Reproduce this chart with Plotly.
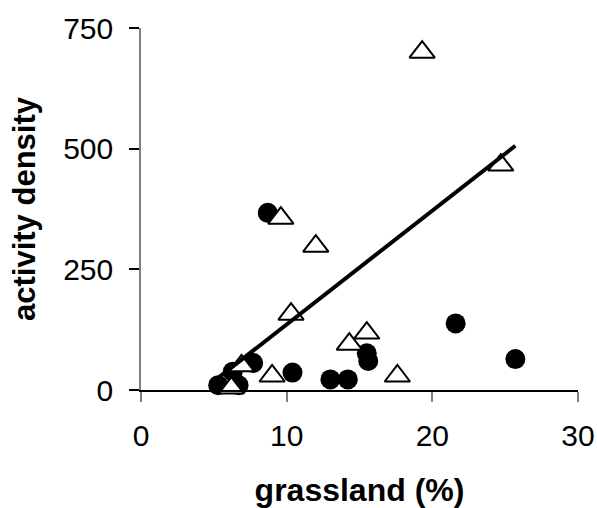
import plotly.graph_objects as go

# Filled circles: grassland (%) vs activity density
circle_x = [8.7, 7.7, 6.3, 5.3, 6.7, 10.4, 13.0, 14.2, 15.5, 15.6, 21.6, 25.7]
circle_y = [367, 56, 38, 10, 10, 36, 22, 22, 76, 60, 138, 64]

# Open triangles: grassland (%) vs activity density
tri_x = [19.3, 24.7, 9.6, 12.0, 10.3, 6.9, 9.0, 6.2, 14.3, 15.5, 17.6]
tri_y = [700, 466, 356, 298, 157, 50, 29, 4, 95, 118, 29]

# Linear trend line end points
trend_x = [5.3, 25.7]
trend_y = [25, 506]

x_ticks = [0, 10, 20, 30]
y_ticks = [0, 250, 500, 750]

FONT = "Liberation Sans, Arial, sans-serif"

fig = go.Figure()
fig.add_trace(go.Scatter(
    x=circle_x, y=circle_y, mode="markers",
    marker=dict(symbol="circle", size=20, color="black", line=dict(width=0)),
    cliponaxis=False, showlegend=False,
))
fig.add_trace(go.Scatter(
    x=tri_x, y=tri_y, mode="markers",
    marker=dict(symbol="triangle-up", size=22, color="white",
                line=dict(color="black", width=2)),
    cliponaxis=False, showlegend=False,
))
fig.add_trace(go.Scatter(
    x=trend_x, y=trend_y, mode="lines",
    line=dict(color="black", width=4),
    cliponaxis=False, showlegend=False,
))

fig.update_layout(
    width=597, height=508,
    margin=dict(l=141, r=19, t=28, b=118),
    paper_bgcolor="white", plot_bgcolor="white",
    font=dict(family=FONT, color="black"),
)
fig.update_xaxes(
    range=[0, 30], tickvals=x_ticks, showgrid=False, zeroline=False,
    automargin=False,
    showline=True, linecolor="black", linewidth=1.5,
    ticks="outside", ticklen=10, tickcolor="#808080", tickwidth=1.5,
    tickfont=dict(size=30, family=FONT), ticklabelstandoff=8,
    title=dict(text="<b>grassland (%)</b>", font=dict(size=32, family=FONT), standoff=28),
)
fig.update_yaxes(
    range=[0, 750], tickvals=y_ticks, showgrid=False, zeroline=False,
    automargin=False,
    showline=True, linecolor="#808080", linewidth=1.5,
    ticks="outside", ticklen=10, tickcolor="black", tickwidth=1.5,
    tickfont=dict(size=30, family=FONT), ticklabelstandoff=10,
    title=dict(text="<b>activity density</b>", font=dict(size=31, family=FONT), standoff=18),
)

fig.write_html("out.html")
